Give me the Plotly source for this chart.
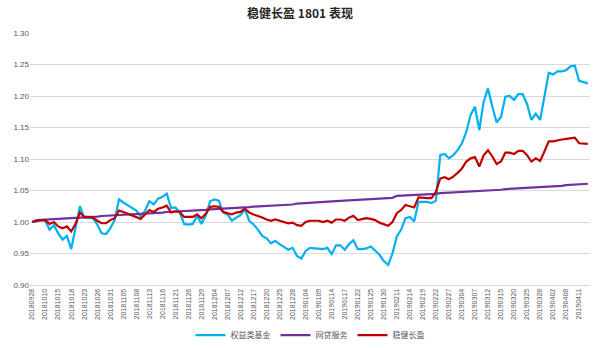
import plotly.graph_objects as go

dates = [
    "20180928", "20181008", "20181009", "20181010", "20181011", "20181012", "20181015", "20181016",
    "20181017", "20181018", "20181019", "20181022", "20181023", "20181024", "20181025", "20181026",
    "20181029", "20181030", "20181031", "20181101", "20181102", "20181105", "20181106", "20181107",
    "20181108", "20181109", "20181112", "20181113", "20181114", "20181115", "20181116", "20181119",
    "20181120", "20181121", "20181122", "20181123", "20181126", "20181127", "20181128", "20181129",
    "20181130", "20181203", "20181204", "20181205", "20181206", "20181207", "20181210", "20181211",
    "20181212", "20181213", "20181214", "20181217", "20181218", "20181219", "20181220", "20181221",
    "20181224", "20181225", "20181226", "20181227", "20181228", "20190102", "20190103", "20190104",
    "20190107", "20190108", "20190109", "20190110", "20190111", "20190114", "20190115", "20190116",
    "20190117", "20190118", "20190121", "20190122", "20190123", "20190124", "20190125", "20190128",
    "20190129", "20190130", "20190131", "20190201", "20190211", "20190212", "20190213", "20190214",
    "20190215", "20190218", "20190219", "20190220", "20190221", "20190222", "20190225", "20190226",
    "20190227", "20190228", "20190301", "20190304", "20190305", "20190306", "20190307", "20190308",
    "20190311", "20190312", "20190313", "20190314", "20190315", "20190318", "20190319", "20190320",
    "20190321", "20190322", "20190325", "20190326", "20190327", "20190328", "20190329", "20190401",
    "20190402", "20190403", "20190404", "20190408", "20190409", "20190410", "20190411", "20190412",
    "20190415",
]

tick_labels = dates[::3]

equity_fund = [
    1.000, 1.002, 1.003, 1.002, 0.988, 0.995, 0.982, 0.972, 0.978, 0.957,
    0.990, 1.025, 1.007, 1.007, 1.006, 0.996, 0.982, 0.981, 0.990, 1.003,
    1.036, 1.031, 1.027, 1.022, 1.018, 1.009, 1.018, 1.033, 1.028, 1.037,
    1.040, 1.045, 1.022, 1.023, 1.015, 0.997, 0.996, 0.997, 1.010, 0.997,
    1.010, 1.033, 1.036, 1.034, 1.015, 1.012, 1.002, 1.007, 1.011, 1.020,
    1.002, 0.996, 0.988, 0.978, 0.974, 0.966, 0.970, 0.965, 0.961, 0.956,
    0.959, 0.946, 0.942, 0.954, 0.959, 0.958, 0.958, 0.957, 0.959, 0.949,
    0.963, 0.963, 0.956, 0.965, 0.971, 0.957, 0.957, 0.958, 0.961, 0.955,
    0.948, 0.938, 0.932, 0.950, 0.977, 0.988, 1.006, 1.008, 1.001, 1.032,
    1.032, 1.032, 1.030, 1.034, 1.106, 1.108, 1.101, 1.106, 1.114, 1.125,
    1.143, 1.170, 1.183, 1.146, 1.191, 1.212, 1.183, 1.158, 1.167, 1.199,
    1.200, 1.194, 1.203, 1.203, 1.187, 1.162, 1.172, 1.162, 1.199, 1.237,
    1.234, 1.239, 1.239, 1.241, 1.247, 1.248, 1.224, 1.222, 1.220,
]

p2p_service = [
    1.0000, 1.0031, 1.0034, 1.0037, 1.0040, 1.0043, 1.0052, 1.0055, 1.0058, 1.0061,
    1.0064, 1.0073, 1.0076, 1.0079, 1.0082, 1.0085, 1.0095, 1.0098, 1.0101, 1.0104,
    1.0107, 1.0116, 1.0119, 1.0122, 1.0125, 1.0128, 1.0137, 1.0140, 1.0143, 1.0146,
    1.0149, 1.0159, 1.0162, 1.0165, 1.0168, 1.0171, 1.0180, 1.0183, 1.0186, 1.0189,
    1.0192, 1.0201, 1.0204, 1.0207, 1.0210, 1.0214, 1.0223, 1.0226, 1.0229, 1.0232,
    1.0235, 1.0244, 1.0247, 1.0250, 1.0253, 1.0256, 1.0265, 1.0268, 1.0271, 1.0275,
    1.0278, 1.0293, 1.0296, 1.0299, 1.0308, 1.0311, 1.0314, 1.0317, 1.0320, 1.0329,
    1.0332, 1.0336, 1.0339, 1.0342, 1.0351, 1.0354, 1.0357, 1.0360, 1.0363, 1.0372,
    1.0375, 1.0378, 1.0381, 1.0384, 1.0415, 1.0418, 1.0421, 1.0424, 1.0427, 1.0436,
    1.0439, 1.0442, 1.0445, 1.0448, 1.0458, 1.0461, 1.0464, 1.0467, 1.0470, 1.0479,
    1.0482, 1.0485, 1.0488, 1.0491, 1.0500, 1.0503, 1.0506, 1.0509, 1.0512, 1.0522,
    1.0525, 1.0528, 1.0531, 1.0534, 1.0543, 1.0546, 1.0549, 1.0552, 1.0555, 1.0564,
    1.0567, 1.0570, 1.0573, 1.0586, 1.0589, 1.0592, 1.0595, 1.0598, 1.0607,
]

wenjian = [
    1.000, 1.002, 1.003, 1.003, 0.997, 1.000, 0.993, 0.990, 0.993, 0.985,
    0.997, 1.015, 1.008, 1.008, 1.007, 1.002, 0.998, 0.998, 1.003, 1.006,
    1.018, 1.016, 1.013, 1.011, 1.008, 1.005, 1.012, 1.019, 1.016, 1.021,
    1.023, 1.026, 1.015, 1.017, 1.016, 1.008, 1.008, 1.008, 1.012, 1.006,
    1.013, 1.024, 1.025, 1.024, 1.016, 1.014, 1.012, 1.015, 1.016, 1.021,
    1.015, 1.012, 1.010, 1.007, 1.004, 1.002, 1.004, 1.002, 1.000, 0.998,
    0.999, 0.995, 0.994, 1.000, 1.002, 1.002, 1.002, 1.000, 1.002, 0.999,
    1.004, 1.004, 1.002, 1.007, 1.010, 1.003, 1.004, 1.006, 1.005, 1.003,
    0.999, 0.996, 0.994, 1.000, 1.014, 1.019, 1.027, 1.025, 1.023, 1.039,
    1.038, 1.038, 1.038, 1.048, 1.069, 1.071, 1.068, 1.072, 1.078, 1.085,
    1.096, 1.101, 1.103, 1.088, 1.106, 1.114, 1.104, 1.092, 1.096, 1.110,
    1.110, 1.108, 1.113, 1.113, 1.106, 1.096, 1.101, 1.097, 1.112, 1.128,
    1.128, 1.130, 1.131, 1.132, 1.133, 1.134, 1.125, 1.124, 1.124,
]

series = [
    ("权益类基金", equity_fund, "#00B0F0"),
    ("网贷服务", p2p_service, "#7030A0"),
    ("稳健长盈", wenjian, "#C00000"),
]

fig = go.Figure()
for name, vals, color in series:
    fig.add_trace(go.Scatter(
        x=dates, y=vals, name=name, mode="lines",
        line=dict(color=color, width=2.2),
    ))

fig.update_layout(
    width=600, height=348,
    margin=dict(l=30, r=10, t=33, b=63),
    paper_bgcolor="white", plot_bgcolor="white",
    font=dict(family="Noto Sans CJK SC, Liberation Sans, sans-serif", color="#595959"),
    title=dict(
        text="<b>稳健长盈 1801 表现</b>",
        x=0.5, xref="container", xanchor="center",
        y=0.96, yref="container", yanchor="middle",
        font=dict(size=12, color="#262626", family="Noto Sans CJK SC, sans-serif"),
    ),
    showlegend=True,
    legend=dict(
        orientation="h", x=0.5, xanchor="center",
        yref="container", y=0.037, yanchor="middle",
        font=dict(size=8, color="#595959"),
        itemwidth=30, tracegroupgap=0,
    ),
)

fig.update_xaxes(
    type="category",
    range=[-0.5, len(dates) - 0.5],
    tickmode="array", tickvals=tick_labels, ticktext=tick_labels,
    tickangle=-90, automargin=False,
    tickfont=dict(size=7, color="#595959", family="Liberation Sans, sans-serif"),
    showgrid=False, showline=True, linecolor="#D9D9D9", linewidth=1,
    ticks="", zeroline=False,
)
fig.update_yaxes(
    range=[0.9, 1.3], dtick=0.05, tick0=0.9, tickformat=".2f", automargin=False,
    tickfont=dict(size=8, color="#595959", family="Liberation Sans, sans-serif"),
    showgrid=True, gridcolor="#D9D9D9", gridwidth=1,
    showline=False, zeroline=False, ticks="",
)

fig.write_html("out.html")
